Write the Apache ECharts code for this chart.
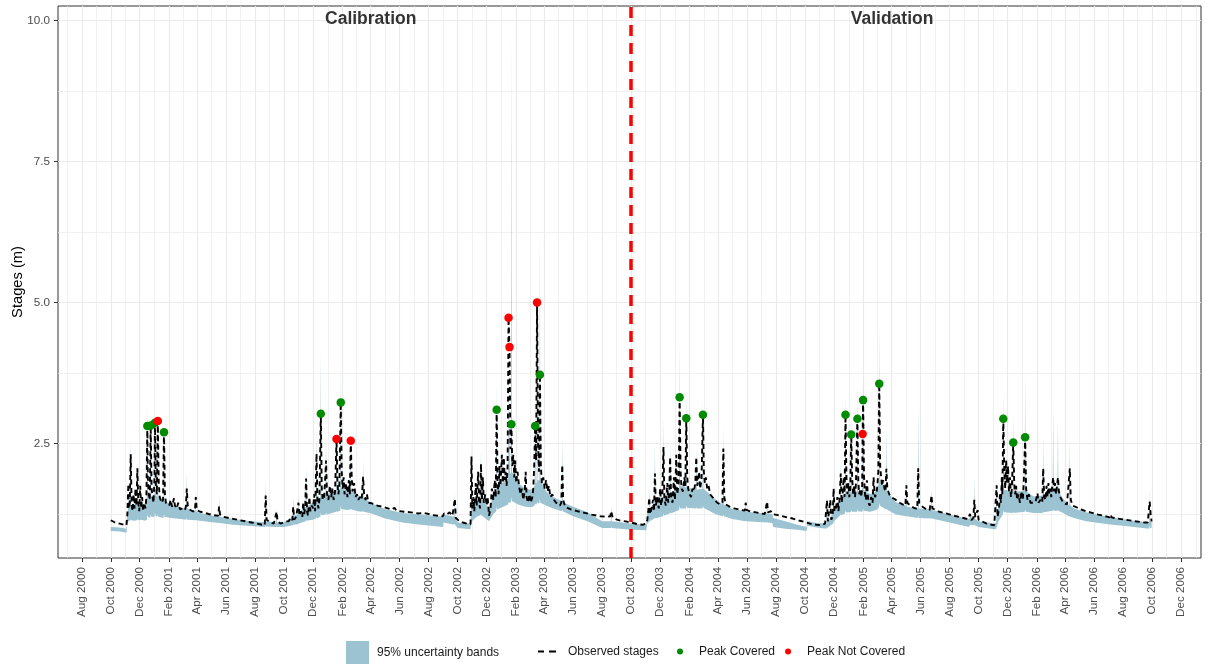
<!DOCTYPE html>
<html>
<head>
<meta charset="utf-8">
<title>Stages – calibration and validation</title>
<script src="https://cdn.jsdelivr.net/npm/echarts@6/dist/echarts.min.js"></script>
<style>
  html, body { margin: 0; padding: 0; background: #ffffff; }
  #chart { width: 1205px; height: 666px; }
</style>
</head>
<body>
<div id="chart"></div>
<script>
// ---- tick labels ----
const xTickLabels = [
  'Aug 2000','Oct 2000','Dec 2000','Feb 2001','Apr 2001','Jun 2001','Aug 2001','Oct 2001','Dec 2001',
  'Feb 2002','Apr 2002','Jun 2002','Aug 2002','Oct 2002','Dec 2002','Feb 2003','Apr 2003','Jun 2003',
  'Aug 2003','Oct 2003','Dec 2003','Feb 2004','Apr 2004','Jun 2004','Aug 2004','Oct 2004','Dec 2004',
  'Feb 2005','Apr 2005','Jun 2005','Aug 2005','Oct 2005','Dec 2005','Feb 2006','Apr 2006','Jun 2006',
  'Aug 2006','Oct 2006','Dec 2006'
];
const yTickValues = [2.5, 5.0, 7.5, 10.0];
const yMinorValues = [1.25, 3.75, 6.25, 8.75];

// ---- observed stages (m) ----
const observed = [
  ['2000-10-01',1.14],['2000-10-10',1.10],['2000-10-20',1.08],['2000-10-28',1.06],['2000-11-03',1.05],
  ['2000-11-05',1.25],['2000-11-07',1.78],['2000-11-08',1.35],['2000-11-10',1.45],['2000-11-12',2.31],['2000-11-14',1.40],['2000-11-16',1.30],['2000-11-18',1.60],['2000-11-20',1.35],['2000-11-22',1.70],['2000-11-24',1.40],['2000-11-26',2.06],['2000-11-28',1.45],['2000-11-30',1.30],
  ['2000-12-02',1.75],['2000-12-04',1.35],['2000-12-06',1.55],['2000-12-08',1.30],['2000-12-10',1.45],['2000-12-13',1.35],['2000-12-15',1.55],['2000-12-17',2.81],['2000-12-18',1.90],['2000-12-20',1.60],['2000-12-22',1.50],['2000-12-24',2.82],['2000-12-26',1.70],['2000-12-28',1.55],['2000-12-30',1.45],
  ['2001-01-01',1.90],['2001-01-02',2.87],['2001-01-04',1.75],['2001-01-06',1.60],['2001-01-08',2.90],['2001-01-10',1.80],['2001-01-12',1.55],['2001-01-14',1.50],['2001-01-16',1.45],['2001-01-19',1.50],['2001-01-21',2.70],['2001-01-23',1.60],['2001-01-25',1.45],['2001-01-28',1.42],
  ['2001-02-01',1.40],['2001-02-04',1.50],['2001-02-07',1.38],['2001-02-11',1.53],['2001-02-13',1.40],['2001-02-17',1.35],['2001-02-20',1.45],['2001-02-24',1.33],
  ['2001-03-01',1.35],['2001-03-06',1.32],['2001-03-08',1.38],['2001-03-10',1.70],['2001-03-12',1.40],['2001-03-16',1.33],['2001-03-22',1.30],['2001-03-27',1.30],['2001-03-29',1.55],['2001-03-31',1.32],
  ['2001-04-08',1.29],['2001-04-16',1.27],['2001-04-25',1.25],['2001-05-05',1.23],['2001-05-15',1.22],['2001-05-17',1.38],['2001-05-19',1.24],['2001-05-26',1.20],
  ['2001-06-06',1.18],['2001-06-18',1.16],['2001-06-30',1.14],['2001-07-12',1.12],['2001-07-24',1.10],['2001-08-05',1.08],['2001-08-15',1.06],['2001-08-21',1.05],['2001-08-23',1.58],['2001-08-25',1.15],
  ['2001-09-02',1.10],['2001-09-09',1.08],['2001-09-13',1.07],['2001-09-15',1.29],['2001-09-17',1.12],['2001-09-23',1.08],['2001-09-29',1.10],

  ['2001-10-04',1.12],['2001-10-10',1.12],['2001-10-15',1.18],['2001-10-18',1.14],['2001-10-20',1.38],['2001-10-22',1.15],['2001-10-26',1.20],['2001-10-29',1.18],['2001-10-31',1.45],
  ['2001-11-02',1.22],['2001-11-05',1.30],['2001-11-08',1.20],['2001-11-10',1.45],['2001-11-12',1.25],['2001-11-14',1.35],['2001-11-16',1.88],['2001-11-18',1.30],['2001-11-20',1.22],['2001-11-23',1.55],['2001-11-25',1.30],['2001-11-28',1.40],
  ['2001-12-01',1.35],['2001-12-03',1.60],['2001-12-05',1.30],['2001-12-08',2.32],['2001-12-10',1.45],['2001-12-12',1.35],['2001-12-14',1.50],['2001-12-17',3.03],['2001-12-19',1.70],['2001-12-21',1.50],['2001-12-24',1.55],['2001-12-26',1.85],['2001-12-28',2.20],['2001-12-30',1.60],
  ['2002-01-02',1.50],['2002-01-05',1.75],['2002-01-08',1.55],['2002-01-10',1.70],['2002-01-13',1.50],['2002-01-16',1.65],['2002-01-19',2.58],['2002-01-21',1.80],['2002-01-23',1.60],['2002-01-25',1.75],['2002-01-28',3.23],['2002-01-30',2.00],
  ['2002-02-01',1.70],['2002-02-03',1.90],['2002-02-05',1.60],['2002-02-08',1.80],['2002-02-11',1.55],['2002-02-14',1.85],['2002-02-16',1.60],['2002-02-18',2.55],['2002-02-20',1.90],['2002-02-22',1.65],['2002-02-25',1.80],['2002-02-28',1.55],
  ['2002-03-03',1.60],['2002-03-06',1.50],['2002-03-09',1.55],['2002-03-13',1.50],['2002-03-16',1.91],['2002-03-18',1.60],['2002-03-21',1.50],['2002-03-24',1.60],['2002-03-27',1.45],
  ['2002-04-03',1.44],['2002-04-15',1.40],['2002-04-30',1.37],['2002-05-15',1.33],['2002-05-21',1.36],['2002-05-25',1.31],['2002-06-10',1.29],['2002-06-25',1.28],['2002-07-10',1.26],['2002-07-22',1.27],['2002-07-24',1.29],['2002-07-26',1.25],['2002-08-10',1.23],['2002-08-31',1.21],

  ['2002-09-02',1.26],['2002-09-08',1.24],['2002-09-14',1.28],['2002-09-20',1.22],['2002-09-23',1.20],['2002-09-25',1.52],['2002-09-27',1.18],['2002-10-05',1.12],['2002-10-12',1.10],['2002-10-20',1.08],['2002-10-28',1.07],
  ['2002-10-30',2.27],['2002-11-01',1.35],['2002-11-03',1.55],['2002-11-05',1.30],['2002-11-08',1.80],['2002-11-10',1.40],['2002-11-13',2.00],['2002-11-15',1.45],['2002-11-17',1.35],['2002-11-19',2.14],['2002-11-21',1.50],['2002-11-23',1.90],['2002-11-25',1.45],['2002-11-28',1.60],
  ['2002-12-01',1.40],['2002-12-03',1.55],['2002-12-06',1.22],['2002-12-09',1.35],['2002-12-12',1.70],['2002-12-15',1.50],['2002-12-18',1.85],['2002-12-20',1.55],['2002-12-22',3.10],['2002-12-24',1.80],['2002-12-26',1.60],['2002-12-28',2.10],['2002-12-30',1.75],
  ['2003-01-02',2.30],['2003-01-04',1.80],['2003-01-06',2.25],['2003-01-08',1.85],['2003-01-10',2.00],['2003-01-12',1.75],['2003-01-14',2.10],['2003-01-16',4.73],['2003-01-18',4.21],['2003-01-20',2.40],['2003-01-22',2.84],['2003-01-24',2.10],['2003-01-26',2.30],['2003-01-28',1.90],['2003-01-30',2.20],
  ['2003-02-01',1.80],['2003-02-04',2.00],['2003-02-07',1.75],['2003-02-10',1.60],['2003-02-13',1.70],['2003-02-16',1.50],['2003-02-19',1.65],['2003-02-21',2.00],['2003-02-23',1.55],['2003-02-26',1.45],
  ['2003-03-01',1.60],['2003-03-04',1.45],['2003-03-07',1.55],['2003-03-09',1.70],['2003-03-11',2.10],['2003-03-13',2.81],['2003-03-15',2.20],['2003-03-17',5.00],['2003-03-19',2.50],['2003-03-21',2.00],['2003-03-23',3.72],['2003-03-25',2.10],['2003-03-27',1.80],['2003-03-30',1.90],
  ['2003-04-02',1.70],['2003-04-05',1.85],['2003-04-08',1.65],['2003-04-11',1.75],['2003-04-14',1.55],['2003-04-18',1.60],['2003-04-22',1.50],['2003-04-26',1.45],['2003-04-30',1.42],
  ['2003-05-04',1.40],['2003-05-07',1.45],['2003-05-09',2.12],['2003-05-11',1.50],['2003-05-15',1.38],['2003-05-20',1.36],['2003-05-28',1.33],['2003-06-10',1.30],['2003-06-25',1.27],['2003-07-10',1.24],['2003-07-28',1.21],
  ['2003-08-10',1.20],['2003-08-18',1.21],['2003-08-20',1.30],['2003-08-23',1.19],['2003-09-01',1.15],['2003-09-10',1.13],['2003-09-20',1.12],['2003-09-28',1.10],['2003-10-05',1.09],['2003-10-15',1.07],['2003-10-25',1.06],['2003-11-02',1.08],

  ['2003-11-04',1.15],['2003-11-06',1.30],['2003-11-08',1.54],['2003-11-10',1.25],['2003-11-13',1.35],['2003-11-16',1.50],['2003-11-18',1.30],['2003-11-20',1.97],['2003-11-22',1.40],['2003-11-25',1.55],['2003-11-28',1.35],
  ['2003-12-01',1.70],['2003-12-03',1.40],['2003-12-05',1.50],['2003-12-08',2.44],['2003-12-10',1.50],['2003-12-13',1.40],['2003-12-16',1.80],['2003-12-18',1.45],['2003-12-20',1.60],['2003-12-22',2.26],['2003-12-24',1.55],['2003-12-27',1.45],['2003-12-30',1.90],
  ['2004-01-01',1.50],['2004-01-04',2.30],['2004-01-06',1.60],['2004-01-09',1.80],['2004-01-11',3.32],['2004-01-13',2.00],['2004-01-15',1.70],['2004-01-18',1.65],['2004-01-21',1.90],['2004-01-23',1.75],['2004-01-25',2.95],['2004-01-27',1.90],['2004-01-29',1.70],
  ['2004-02-01',1.60],['2004-02-04',1.55],['2004-02-07',1.70],['2004-02-10',1.65],['2004-02-13',1.80],['2004-02-15',2.26],['2004-02-17',1.75],['2004-02-19',1.85],['2004-02-21',2.00],['2004-02-23',1.70],['2004-02-26',1.85],['2004-02-29',3.01],
  ['2004-03-02',2.00],['2004-03-04',1.80],['2004-03-06',1.90],['2004-03-09',1.70],['2004-03-12',1.75],['2004-03-15',1.60],['2004-03-20',1.55],['2004-03-25',1.50],['2004-03-30',1.45],
  ['2004-04-05',1.42],['2004-04-10',1.45],['2004-04-12',2.41],['2004-04-14',1.55],['2004-04-17',1.42],['2004-04-25',1.38],['2004-05-05',1.35],['2004-05-15',1.33],['2004-05-27',1.31],['2004-05-29',1.45],['2004-05-31',1.32],
  ['2004-06-10',1.29],['2004-06-20',1.28],['2004-06-30',1.26],['2004-07-08',1.25],['2004-07-11',1.24],['2004-07-13',1.47],['2004-07-15',1.28],['2004-07-21',1.30],['2004-07-24',1.25],
  ['2004-08-05',1.23],['2004-08-20',1.20],['2004-09-05',1.17],['2004-09-20',1.13],['2004-10-04',1.10],

  ['2004-10-06',1.10],['2004-10-15',1.07],['2004-10-25',1.06],['2004-11-05',1.05],['2004-11-12',1.08],['2004-11-16',1.49],['2004-11-18',1.12],['2004-11-21',1.10],['2004-11-23',1.50],['2004-11-25',1.15],['2004-11-28',1.20],['2004-11-30',1.70],
  ['2004-12-02',1.30],['2004-12-05',1.35],['2004-12-08',1.55],['2004-12-10',1.30],['2004-12-12',1.45],['2004-12-15',1.97],['2004-12-17',1.45],['2004-12-19',1.60],['2004-12-21',1.90],['2004-12-23',1.55],['2004-12-25',3.01],['2004-12-27',1.90],['2004-12-29',1.60],['2004-12-31',1.80],
  ['2005-01-02',1.55],['2005-01-04',1.70],['2005-01-06',2.66],['2005-01-08',1.90],['2005-01-10',1.60],['2005-01-12',1.75],['2005-01-14',1.55],['2005-01-16',1.80],['2005-01-19',2.94],['2005-01-21',1.80],['2005-01-23',1.60],['2005-01-25',1.70],['2005-01-27',1.55],['2005-01-29',1.70],['2005-01-30',2.67],['2005-01-31',3.27],
  ['2005-02-02',1.90],['2005-02-04',1.60],['2005-02-06',1.50],['2005-02-08',1.85],['2005-02-11',1.45],['2005-02-14',1.40],['2005-02-17',1.55],['2005-02-20',1.45],['2005-02-22',1.90],['2005-02-25',1.55],['2005-02-28',1.60],
  ['2005-03-02',1.75],['2005-03-04',2.00],['2005-03-06',3.56],['2005-03-08',2.10],['2005-03-10',1.90],['2005-03-12',1.75],['2005-03-14',1.85],['2005-03-17',1.70],['2005-03-19',1.65],['2005-03-21',2.05],['2005-03-23',1.70],['2005-03-27',1.60],['2005-03-31',1.55],
  ['2005-04-04',1.52],['2005-04-10',1.50],['2005-04-18',1.45],['2005-04-24',1.42],['2005-04-30',1.40],['2005-05-02',1.76],['2005-05-04',1.45],['2005-05-10',1.40],['2005-05-18',1.36],['2005-05-25',1.34],['2005-05-27',2.06],['2005-05-29',1.45],
  ['2005-06-05',1.38],['2005-06-12',1.34],['2005-06-20',1.32],['2005-06-22',1.31],['2005-06-24',1.58],['2005-06-26',1.35],['2005-07-10',1.29],['2005-07-25',1.26],['2005-08-10',1.22],['2005-08-25',1.19],['2005-09-08',1.16],
  ['2005-09-11',1.15],['2005-09-13',1.25],['2005-09-16',1.14],['2005-09-20',1.18],['2005-09-22',1.50],['2005-09-24',1.20],['2005-09-29',1.32],['2005-10-01',1.15],

  ['2005-10-08',1.12],['2005-10-18',1.08],['2005-10-28',1.06],['2005-11-03',1.05],['2005-11-06',1.08],['2005-11-08',1.76],['2005-11-10',1.20],['2005-11-13',1.35],['2005-11-15',1.60],['2005-11-17',1.45],['2005-11-19',1.90],['2005-11-20',1.60],['2005-11-22',2.94],['2005-11-24',2.10],['2005-11-26',1.70],['2005-11-28',2.20],['2005-11-30',1.80],
  ['2005-12-02',2.10],['2005-12-04',1.65],['2005-12-06',1.90],['2005-12-08',1.55],['2005-12-10',1.70],['2005-12-13',2.52],['2005-12-15',1.80],['2005-12-17',1.60],['2005-12-19',1.75],['2005-12-21',1.50],['2005-12-24',1.60],['2005-12-27',1.45],['2005-12-30',1.65],
  ['2006-01-02',1.50],['2006-01-04',1.80],['2006-01-07',2.61],['2006-01-09',1.70],['2006-01-12',1.50],['2006-01-15',1.60],['2006-01-18',1.45],['2006-01-22',1.48],['2006-01-26',1.45],['2006-01-30',1.50],
  ['2006-02-02',1.62],['2006-02-04',1.45],['2006-02-08',1.50],['2006-02-12',1.45],['2006-02-14',2.06],['2006-02-16',1.55],['2006-02-19',1.50],['2006-02-21',1.75],['2006-02-23',1.55],['2006-02-25',1.80],['2006-02-27',1.60],
  ['2006-03-01',1.70],['2006-03-03',1.55],['2006-03-05',1.75],['2006-03-07',1.90],['2006-03-09',1.65],['2006-03-11',1.80],['2006-03-13',1.60],['2006-03-15',1.75],['2006-03-17',1.90],['2006-03-19',1.65],['2006-03-22',1.55],['2006-03-25',1.50],['2006-03-28',1.45],
  ['2006-04-05',1.42],['2006-04-09',1.40],['2006-04-11',2.06],['2006-04-13',1.50],['2006-04-17',1.40],['2006-04-25',1.37],['2006-05-05',1.33],['2006-05-15',1.30],['2006-05-28',1.27],
  ['2006-06-10',1.24],['2006-06-25',1.21],['2006-07-04',1.19],['2006-07-06',1.24],['2006-07-08',1.19],['2006-07-20',1.17],['2006-08-05',1.15],['2006-08-20',1.13],['2006-09-05',1.11],['2006-09-15',1.10],['2006-09-22',1.10],['2006-09-24',1.30],['2006-09-26',1.47],['2006-09-28',1.25],['2006-09-30',1.12]
];

// ---- 95% uncertainty band: [date, lower, upper] ----
const band = [
  ['2000-10-01',0.95,1.02],['2000-10-20',0.94,1.01],['2000-11-03',0.92,0.99],
  ['2000-11-05',1.08,1.25],['2000-11-06',1.10,1.30],['2000-11-07',1.12,1.60],['2000-11-08',1.12,1.35],['2000-11-11',1.14,1.40],['2000-11-12',1.15,2.60],['2000-11-13',1.14,1.40],['2000-11-20',1.13,1.42],['2000-11-25',1.14,1.45],['2000-11-26',1.16,2.20],['2000-11-27',1.14,1.45],
  ['2000-12-05',1.15,1.45],['2000-12-12',1.13,1.40],['2000-12-16',1.15,1.55],['2000-12-17',1.25,3.20],['2000-12-18',1.20,1.60],['2000-12-23',1.18,1.55],['2000-12-24',1.25,3.00],['2000-12-25',1.20,1.55],
  ['2001-01-01',1.20,1.60],['2001-01-02',1.28,3.10],['2001-01-03',1.22,1.60],['2001-01-07',1.20,1.55],['2001-01-08',1.25,2.50],['2001-01-09',1.20,1.55],['2001-01-20',1.18,1.48],['2001-01-21',1.25,2.90],['2001-01-22',1.20,1.48],
  ['2001-02-05',1.18,1.42],['2001-02-25',1.16,1.36],['2001-03-09',1.15,1.35],['2001-03-10',1.18,2.00],['2001-03-11',1.15,1.35],['2001-03-28',1.14,1.30],['2001-03-29',1.15,1.65],['2001-03-30',1.14,1.29],
  ['2001-04-15',1.12,1.25],['2001-05-16',1.09,1.20],['2001-05-17',1.10,1.55],['2001-05-18',1.09,1.20],['2001-06-15',1.06,1.16],['2001-07-15',1.04,1.13],['2001-08-22',1.02,1.10],['2001-08-23',1.05,1.85],['2001-08-24',1.03,1.12],['2001-09-14',1.02,1.10],['2001-09-15',1.03,1.35],['2001-09-16',1.02,1.10],['2001-09-30',1.02,1.10],

  ['2001-10-19',1.05,1.20],['2001-10-20',1.07,1.55],['2001-10-21',1.06,1.22],['2001-10-30',1.07,1.25],['2001-10-31',1.08,1.60],['2001-11-01',1.08,1.28],['2001-11-15',1.12,1.38],['2001-11-16',1.14,2.10],['2001-11-17',1.13,1.38],['2001-11-30',1.15,1.45],
  ['2001-12-07',1.17,1.50],['2001-12-08',1.20,2.80],['2001-12-09',1.17,1.50],['2001-12-16',1.20,1.55],['2001-12-17',1.28,4.20],['2001-12-18',1.23,1.60],['2001-12-27',1.24,1.62],['2001-12-28',1.28,2.60],['2001-12-29',1.24,1.62],
  ['2002-01-10',1.27,1.62],['2002-01-18',1.29,1.66],['2002-01-19',1.30,2.30],['2002-01-20',1.29,1.66],['2002-01-27',1.31,1.70],['2002-01-28',1.40,3.90],['2002-01-29',1.34,1.72],['2002-02-10',1.32,1.66],['2002-02-17',1.33,1.68],['2002-02-18',1.35,2.35],['2002-02-19',1.33,1.68],
  ['2002-03-05',1.30,1.58],['2002-03-15',1.29,1.56],['2002-03-16',1.31,2.20],['2002-03-17',1.29,1.54],['2002-04-03',1.26,1.44],['2002-05-01',1.17,1.34],['2002-06-07',1.10,1.27],['2002-07-15',1.06,1.24],['2002-08-31',1.02,1.20],

  ['2002-09-01',1.10,1.24],['2002-09-24',1.06,1.20],['2002-09-25',1.08,1.65],['2002-09-26',1.05,1.18],['2002-10-01',1.00,1.10],['2002-10-28',0.98,1.08],['2002-10-29',1.05,1.35],['2002-10-30',1.10,2.60],['2002-10-31',1.12,1.45],
  ['2002-11-10',1.20,1.48],['2002-11-18',1.23,1.52],['2002-11-19',1.25,2.40],['2002-11-20',1.23,1.52],['2002-12-06',1.12,1.35],['2002-12-15',1.25,1.58],['2002-12-21',1.30,1.68],['2002-12-22',1.38,3.60],['2002-12-23',1.33,1.72],
  ['2003-01-05',1.38,1.82],['2003-01-15',1.42,1.88],['2003-01-16',1.46,3.80],['2003-01-17',1.45,1.95],['2003-01-18',1.46,3.50],['2003-01-19',1.45,1.95],['2003-01-21',1.46,2.00],['2003-01-22',1.55,9.80],['2003-01-23',1.48,2.00],['2003-02-05',1.42,1.80],['2003-02-20',1.38,1.70],
  ['2003-03-05',1.37,1.68],['2003-03-12',1.40,1.75],['2003-03-13',1.44,3.40],['2003-03-14',1.42,1.80],['2003-03-16',1.42,1.80],['2003-03-17',1.47,4.20],['2003-03-18',1.44,1.85],['2003-03-22',1.44,1.85],['2003-03-23',1.52,6.20],['2003-03-24',1.45,1.85],
  ['2003-04-05',1.40,1.65],['2003-04-20',1.35,1.55],['2003-05-08',1.30,1.48],['2003-05-09',1.33,2.60],['2003-05-10',1.30,1.46],['2003-06-01',1.21,1.38],['2003-07-01',1.12,1.28],['2003-08-01',1.00,1.12],['2003-08-19',1.00,1.12],['2003-08-20',1.02,1.40],['2003-08-21',1.00,1.12],['2003-10-01',0.97,1.08],['2003-11-02',0.96,1.06],

  ['2003-11-04',1.08,1.28],['2003-11-07',1.10,1.32],['2003-11-08',1.12,1.70],['2003-11-09',1.12,1.35],['2003-11-19',1.17,1.45],['2003-11-20',1.19,2.50],['2003-11-21',1.17,1.45],['2003-12-07',1.21,1.55],['2003-12-08',1.26,3.00],['2003-12-09',1.22,1.58],['2003-12-21',1.26,1.62],['2003-12-22',1.28,2.50],['2003-12-23',1.26,1.62],
  ['2004-01-10',1.32,1.70],['2004-01-11',1.40,4.30],['2004-01-12',1.35,1.75],['2004-01-24',1.35,1.72],['2004-01-25',1.40,3.50],['2004-01-26',1.36,1.72],['2004-02-14',1.35,1.68],['2004-02-15',1.37,2.40],['2004-02-16',1.35,1.68],['2004-02-28',1.35,1.70],['2004-02-29',1.40,3.30],['2004-03-01',1.36,1.70],
  ['2004-03-15',1.30,1.60],['2004-03-28',1.24,1.50],['2004-04-11',1.21,1.42],['2004-04-12',1.24,2.80],['2004-04-13',1.21,1.42],['2004-05-01',1.16,1.34],['2004-05-28',1.12,1.30],['2004-05-29',1.13,1.50],['2004-05-30',1.12,1.29],['2004-07-12',1.10,1.26],['2004-07-13',1.11,1.55],['2004-07-14',1.10,1.26],['2004-07-24',1.09,1.25],
  ['2004-07-26',1.02,1.18],['2004-08-20',0.99,1.12],['2004-09-15',0.97,1.06],['2004-10-04',0.95,1.02],

  ['2004-10-06',1.04,1.12],['2004-10-25',1.01,1.09],['2004-11-15',0.99,1.08],['2004-11-16',1.02,1.60],['2004-11-17',1.00,1.10],['2004-11-29',1.08,1.28],['2004-11-30',1.10,1.80],['2004-12-01',1.12,1.32],['2004-12-14',1.23,1.50],['2004-12-15',1.25,2.20],['2004-12-16',1.23,1.55],['2004-12-24',1.26,1.62],['2004-12-25',1.32,3.40],['2004-12-26',1.28,1.65],
  ['2005-01-05',1.28,1.65],['2005-01-06',1.32,3.00],['2005-01-07',1.29,1.65],['2005-01-18',1.29,1.65],['2005-01-19',1.34,3.60],['2005-01-20',1.30,1.65],['2005-01-29',1.29,1.65],['2005-01-30',1.30,2.40],['2005-01-31',1.36,3.70],['2005-02-01',1.31,1.68],
  ['2005-02-15',1.29,1.60],['2005-02-28',1.32,1.65],['2005-03-05',1.36,1.80],['2005-03-06',1.45,4.60],['2005-03-07',1.40,1.85],['2005-03-20',1.33,1.68],['2005-03-21',1.35,2.80],['2005-03-22',1.33,1.65],
  ['2005-04-10',1.24,1.46],['2005-05-01',1.21,1.40],['2005-05-02',1.22,1.90],['2005-05-03',1.21,1.38],['2005-05-26',1.18,1.35],['2005-05-27',1.22,3.20],['2005-05-28',1.18,1.35],['2005-06-23',1.17,1.33],['2005-06-24',1.18,1.70],['2005-06-25',1.17,1.32],['2005-08-01',1.10,1.24],['2005-09-11',1.02,1.16],
  ['2005-09-13',1.06,1.20],['2005-09-21',1.05,1.18],['2005-09-22',1.06,1.90],['2005-09-23',1.05,1.17],['2005-10-01',1.02,1.12],['2005-11-04',0.98,1.08],

  ['2005-11-07',0.99,1.10],['2005-11-08',1.02,1.90],['2005-11-09',1.04,1.25],['2005-11-12',1.12,1.38],['2005-11-21',1.24,1.62],['2005-11-22',1.32,3.40],['2005-11-23',1.28,1.68],['2005-12-12',1.27,1.65],['2005-12-13',1.30,3.00],['2005-12-14',1.27,1.65],
  ['2006-01-06',1.29,1.66],['2006-01-07',1.33,3.70],['2006-01-08',1.29,1.66],['2006-01-25',1.27,1.56],['2006-02-13',1.27,1.58],['2006-02-14',1.29,2.60],['2006-02-15',1.28,1.60],['2006-03-06',1.31,1.68],['2006-03-07',1.33,3.20],['2006-03-08',1.31,1.68],['2006-03-16',1.31,1.68],['2006-03-17',1.32,2.90],['2006-03-18',1.31,1.65],['2006-03-28',1.27,1.52],
  ['2006-04-10',1.20,1.40],['2006-04-11',1.22,2.60],['2006-04-12',1.20,1.40],['2006-04-20',1.18,1.35],['2006-05-15',1.12,1.28],['2006-07-01',1.07,1.20],['2006-08-15',1.03,1.14],['2006-09-25',0.99,1.10],['2006-09-26',1.05,1.70],['2006-09-27',1.00,1.12],['2006-09-30',1.00,1.12]
];

// ---- observed peaks ----
const peaksCovered = [
  ['2000-12-17',2.81],['2000-12-24',2.82],['2001-01-02',2.87],['2001-01-21',2.70],
  ['2001-12-17',3.03],['2002-01-28',3.23],
  ['2002-12-22',3.10],['2003-01-22',2.84],['2003-03-13',2.81],['2003-03-23',3.72],
  ['2004-01-11',3.32],['2004-01-25',2.95],['2004-02-29',3.01],
  ['2004-12-25',3.01],['2005-01-06',2.66],['2005-01-19',2.94],['2005-01-31',3.27],['2005-03-06',3.56],
  ['2005-11-22',2.94],['2005-12-13',2.52],['2006-01-07',2.61]
];
const peaksNotCovered = [
  ['2001-01-08',2.90],['2002-01-19',2.58],['2002-02-18',2.55],
  ['2003-01-16',4.73],['2003-01-18',4.21],['2003-03-17',5.00],
  ['2005-01-30',2.67]
];

const periodNames = ['Calibration', 'Validation'];
const splitDate = '2003-10-01';

// ---- helpers: dates become millisecond values on a numeric x axis ----
const MONTHS = {Jan:0,Feb:1,Mar:2,Apr:3,May:4,Jun:5,Jul:6,Aug:7,Sep:8,Oct:9,Nov:10,Dec:11};
const toTime = s => { const p = s.split('-'); return new Date(+p[0], +p[1] - 1, +p[2]).getTime(); };
const labelTime = s => { const p = s.split(' '); return new Date(+p[1], MONTHS[p[0]], 1).getTime(); };
const majorTicks = xTickLabels.map(labelTime);
const labelByTime = {};
majorTicks.forEach((t, i) => { labelByTime[t] = xTickLabels[i]; });

// minor breaks sit halfway between the two-monthly majors (one extra on each side)
const extended = [new Date(2000, 5, 1).getTime()].concat(majorTicks, [new Date(2007, 1, 1).getTime()]);
const minorTicks = [];
for (let i = 0; i < extended.length - 1; i++) minorTicks.push((extended[i] + extended[i + 1]) / 2);

const X_MIN = new Date(2000, 5, 12).getTime();
const X_MAX = new Date(2007, 0, 12).getTime();
const Y_MIN = 0.47, Y_MAX = 10.26;

const FONT = '"Liberation Sans", Arial, Helvetica, sans-serif';
const GRID_COLOR = '#ebebeb';
const BAND_COLOR = '#9cc3d1';
const GREEN = '#008b00';
const RED = '#ff0000';

const observedXY = observed.map(r => [toTime(r[0]), r[1]]);
const bandXYY = band.map(r => [toTime(r[0]), r[1], r[2]]);
const coveredXY = peaksCovered.map(r => [toTime(r[0]), r[1]]);
const notCoveredXY = peaksNotCovered.map(r => [toTime(r[0]), r[1]]);

// the ribbon: upper edge left→right, then lower edge right→left, as one polygon
function renderBand(params, api) {
  const upper = bandXYY.map(r => api.coord([r[0], r[2]]));
  const lower = bandXYY.map(r => api.coord([r[0], r[1]])).reverse();
  return {
    type: 'polygon',
    shape: {points: upper.concat(lower)},
    style: {fill: BAND_COLOR, stroke: null}
  };
}

const chart = echarts.init(document.getElementById('chart'), null, {renderer: 'canvas'});

chart.setOption({
  animation: false,
  backgroundColor: '#ffffff',
  textStyle: {fontFamily: FONT},
  grid: {
    left: 58, right: 4, top: 6, bottom: 108,
    outerBoundsMode: 'none', containLabel: false,
    show: true, borderColor: '#333333', borderWidth: 1, backgroundColor: 'transparent'
  },
  xAxis: [
    {
      type: 'value', min: X_MIN, max: X_MAX,
      axisLine: {show: false},
      axisTick: {show: true, length: 4, lineStyle: {color: '#333333', width: 1}, customValues: majorTicks},
      axisLabel: {
        show: true, rotate: 90, margin: 9, fontSize: 11.7, color: '#4d4d4d', fontFamily: FONT,
        customValues: majorTicks,
        formatter: v => labelByTime[v] || ''
      },
      splitLine: {show: true, lineStyle: {color: GRID_COLOR, width: 1.2}}
    },
    {
      type: 'value', min: X_MIN, max: X_MAX, position: 'bottom',
      axisLine: {show: false},
      axisTick: {show: false, customValues: minorTicks},
      axisLabel: {show: false, customValues: minorTicks},
      splitLine: {show: true, lineStyle: {color: GRID_COLOR, width: 0.7}}
    }
  ],
  yAxis: [
    {
      type: 'value', min: Y_MIN, max: Y_MAX,
      name: 'Stages (m)', nameLocation: 'middle', nameGap: 33, nameMoveOverlap: false,
      nameTextStyle: {fontSize: 14.7, color: '#000000', fontFamily: FONT},
      axisLine: {show: false},
      axisTick: {show: true, length: 4, lineStyle: {color: '#333333', width: 1}, customValues: yTickValues},
      axisLabel: {show: true, margin: 8, fontSize: 11.7, color: '#4d4d4d', fontFamily: FONT,
        customValues: yTickValues, formatter: v => v.toFixed(1)},
      splitLine: {show: true, lineStyle: {color: GRID_COLOR, width: 1.2}}
    },
    {
      type: 'value', min: Y_MIN, max: Y_MAX, position: 'left',
      axisLine: {show: false},
      axisTick: {show: false, customValues: yMinorValues},
      axisLabel: {show: false, customValues: yMinorValues},
      splitLine: {show: true, lineStyle: {color: GRID_COLOR, width: 0.7}}
    }
  ],
  legend: [
    {
      left: 346, top: 641, padding: 0, itemWidth: 23, itemHeight: 23,
      textStyle: {fontSize: 12, color: '#1a1a1a', fontFamily: FONT, padding: [0, 0, 0, 3]},
      data: [{name: '95% uncertainty bands', icon: 'rect', itemStyle: {color: BAND_COLOR, opacity: 1}}]
    },
    {
      left: 538, top: 645.5, padding: 0, itemWidth: 18, itemHeight: 2,
      textStyle: {fontSize: 12, color: '#1a1a1a', fontFamily: FONT, padding: [0, 0, 0, 7]},
      data: [{name: 'Observed stages', icon: 'path://M0 0h6v2H0z M11 0h7v2h-7z',
        itemStyle: {color: '#000000', opacity: 1}}]
    },
    {
      left: 677, top: 645.5, padding: 0, itemWidth: 20, itemHeight: 6, itemGap: 10,
      textStyle: {fontSize: 12, color: '#1a1a1a', fontFamily: FONT, padding: [0, 0, 0, 4]},
      data: [
        {name: 'Peak Covered', icon: 'circle', itemStyle: {color: GREEN, opacity: 1}},
        {name: 'Peak Not Covered', icon: 'circle', itemStyle: {color: RED, opacity: 1}}
      ]
    }
  ],
  series: [
    {
      name: '95% uncertainty bands', type: 'custom', renderItem: renderBand,
      data: [bandXYY[0]], encode: {x: 0, y: 1},
      silent: true, z: 1, clip: true,
      itemStyle: {color: BAND_COLOR}
    },
    {
      name: 'Observed stages', type: 'line', data: observedXY,
      symbol: 'none', showSymbol: false, z: 3,
      color: '#000000',
      lineStyle: {color: '#000000', width: 1.9, type: [5, 3.5]}
    },
    {
      name: 'Peak Covered', type: 'scatter', data: coveredXY,
      symbol: 'circle', symbolSize: 8.5, z: 4,
      itemStyle: {color: GREEN, opacity: 1}
    },
    {
      name: 'Peak Not Covered', type: 'scatter', data: notCoveredXY,
      symbol: 'circle', symbolSize: 8.5, z: 4,
      itemStyle: {color: RED, opacity: 1}
    },
    {
      name: 'period split', type: 'line', data: [], z: 5, silent: true,
      markLine: {
        symbol: 'none', silent: true, animation: false,
        label: {show: false},
        lineStyle: {color: RED, width: 3.5, type: [11, 7], opacity: 1},
        data: [{xAxis: toTime(splitDate)}]
      }
    },
    {
      name: 'period titles', type: 'scatter', z: 6, silent: true,
      symbolSize: 0,
      data: [
        {name: periodNames[0], value: [toTime('2002-04-01'), 10.03]},
        {name: periodNames[1], value: [toTime('2005-04-02'), 10.03]}
      ],
      label: {show: true, position: 'inside', formatter: p => p.name,
        fontSize: 17.5, fontWeight: 'bold', color: '#000000', fontFamily: FONT}
    }
  ]
});
</script>
</body>
</html>
